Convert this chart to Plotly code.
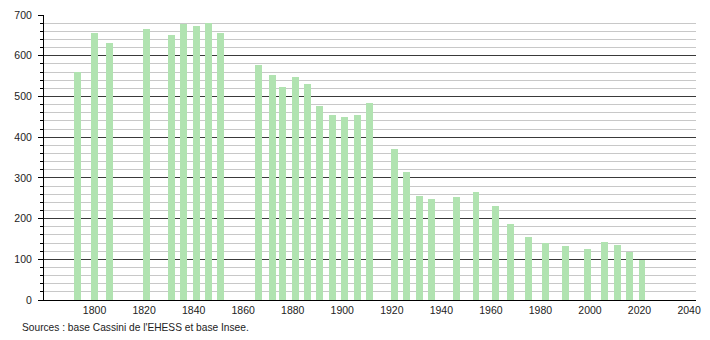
import plotly.graph_objects as go

years = [1793, 1800, 1806, 1821, 1831, 1836, 1841, 1846, 1851,
         1866, 1872, 1876, 1881, 1886, 1891, 1896, 1901, 1906, 1911,
         1921, 1926, 1931, 1936, 1946, 1954, 1962, 1968, 1975, 1982,
         1990, 1999, 2006, 2011, 2016, 2021]
population = [561, 657, 631, 665, 650, 677, 674, 680, 657,
              578, 552, 523, 548, 530, 476, 455, 449, 455, 484,
              370, 315, 256, 248, 254, 266, 232, 186, 155, 140,
              133, 126, 143, 135, 119, 99]
x_ticks = list(range(1800, 2041, 20))
y_ticks = list(range(0, 701, 100))
source_text = "Sources : base Cassini de l'EHESS et base Insee."

fig = go.Figure()
fig.add_trace(go.Bar(x=years, y=population, width=2.8,
                     marker=dict(color="#b1e3b1", line=dict(width=0))))

fig.update_layout(
    width=710, height=340,
    margin=dict(l=44, r=9, t=10, b=40),
    paper_bgcolor="white", plot_bgcolor="white",
    font=dict(family="Liberation Sans, Arial, sans-serif", size=10.5, color="#222"),
    showlegend=False,
    bargap=0,
)
fig.update_xaxes(
    range=[1779.6, 2042.8], tickvals=x_ticks, ticktext=[str(v) for v in x_ticks],
    showgrid=False, zeroline=False, showline=True, linecolor="black", linewidth=1,
    ticks="", ticklen=0,
)
fig.update_yaxes(
    range=[0, 700], tickvals=y_ticks, showgrid=True, gridcolor="#3a3a3a", gridwidth=1,
    zeroline=False, showline=True, linecolor="black", linewidth=1,
    ticks="outside", ticklen=5, tickcolor="black", ticklabelstandoff=4,
    minor=dict(dtick=20, showgrid=True, gridcolor="#c8c8c8", gridwidth=1,
               ticks="outside", ticklen=3, tickcolor="black"),
)
fig.add_annotation(text=source_text, xref="paper", yref="paper",
                   x=(20 - 44) / 657, y=-28 / 290, xanchor="left", yanchor="middle",
                   showarrow=False, font=dict(size=10.2, color="#222"))
fig.write_html("out.html")
